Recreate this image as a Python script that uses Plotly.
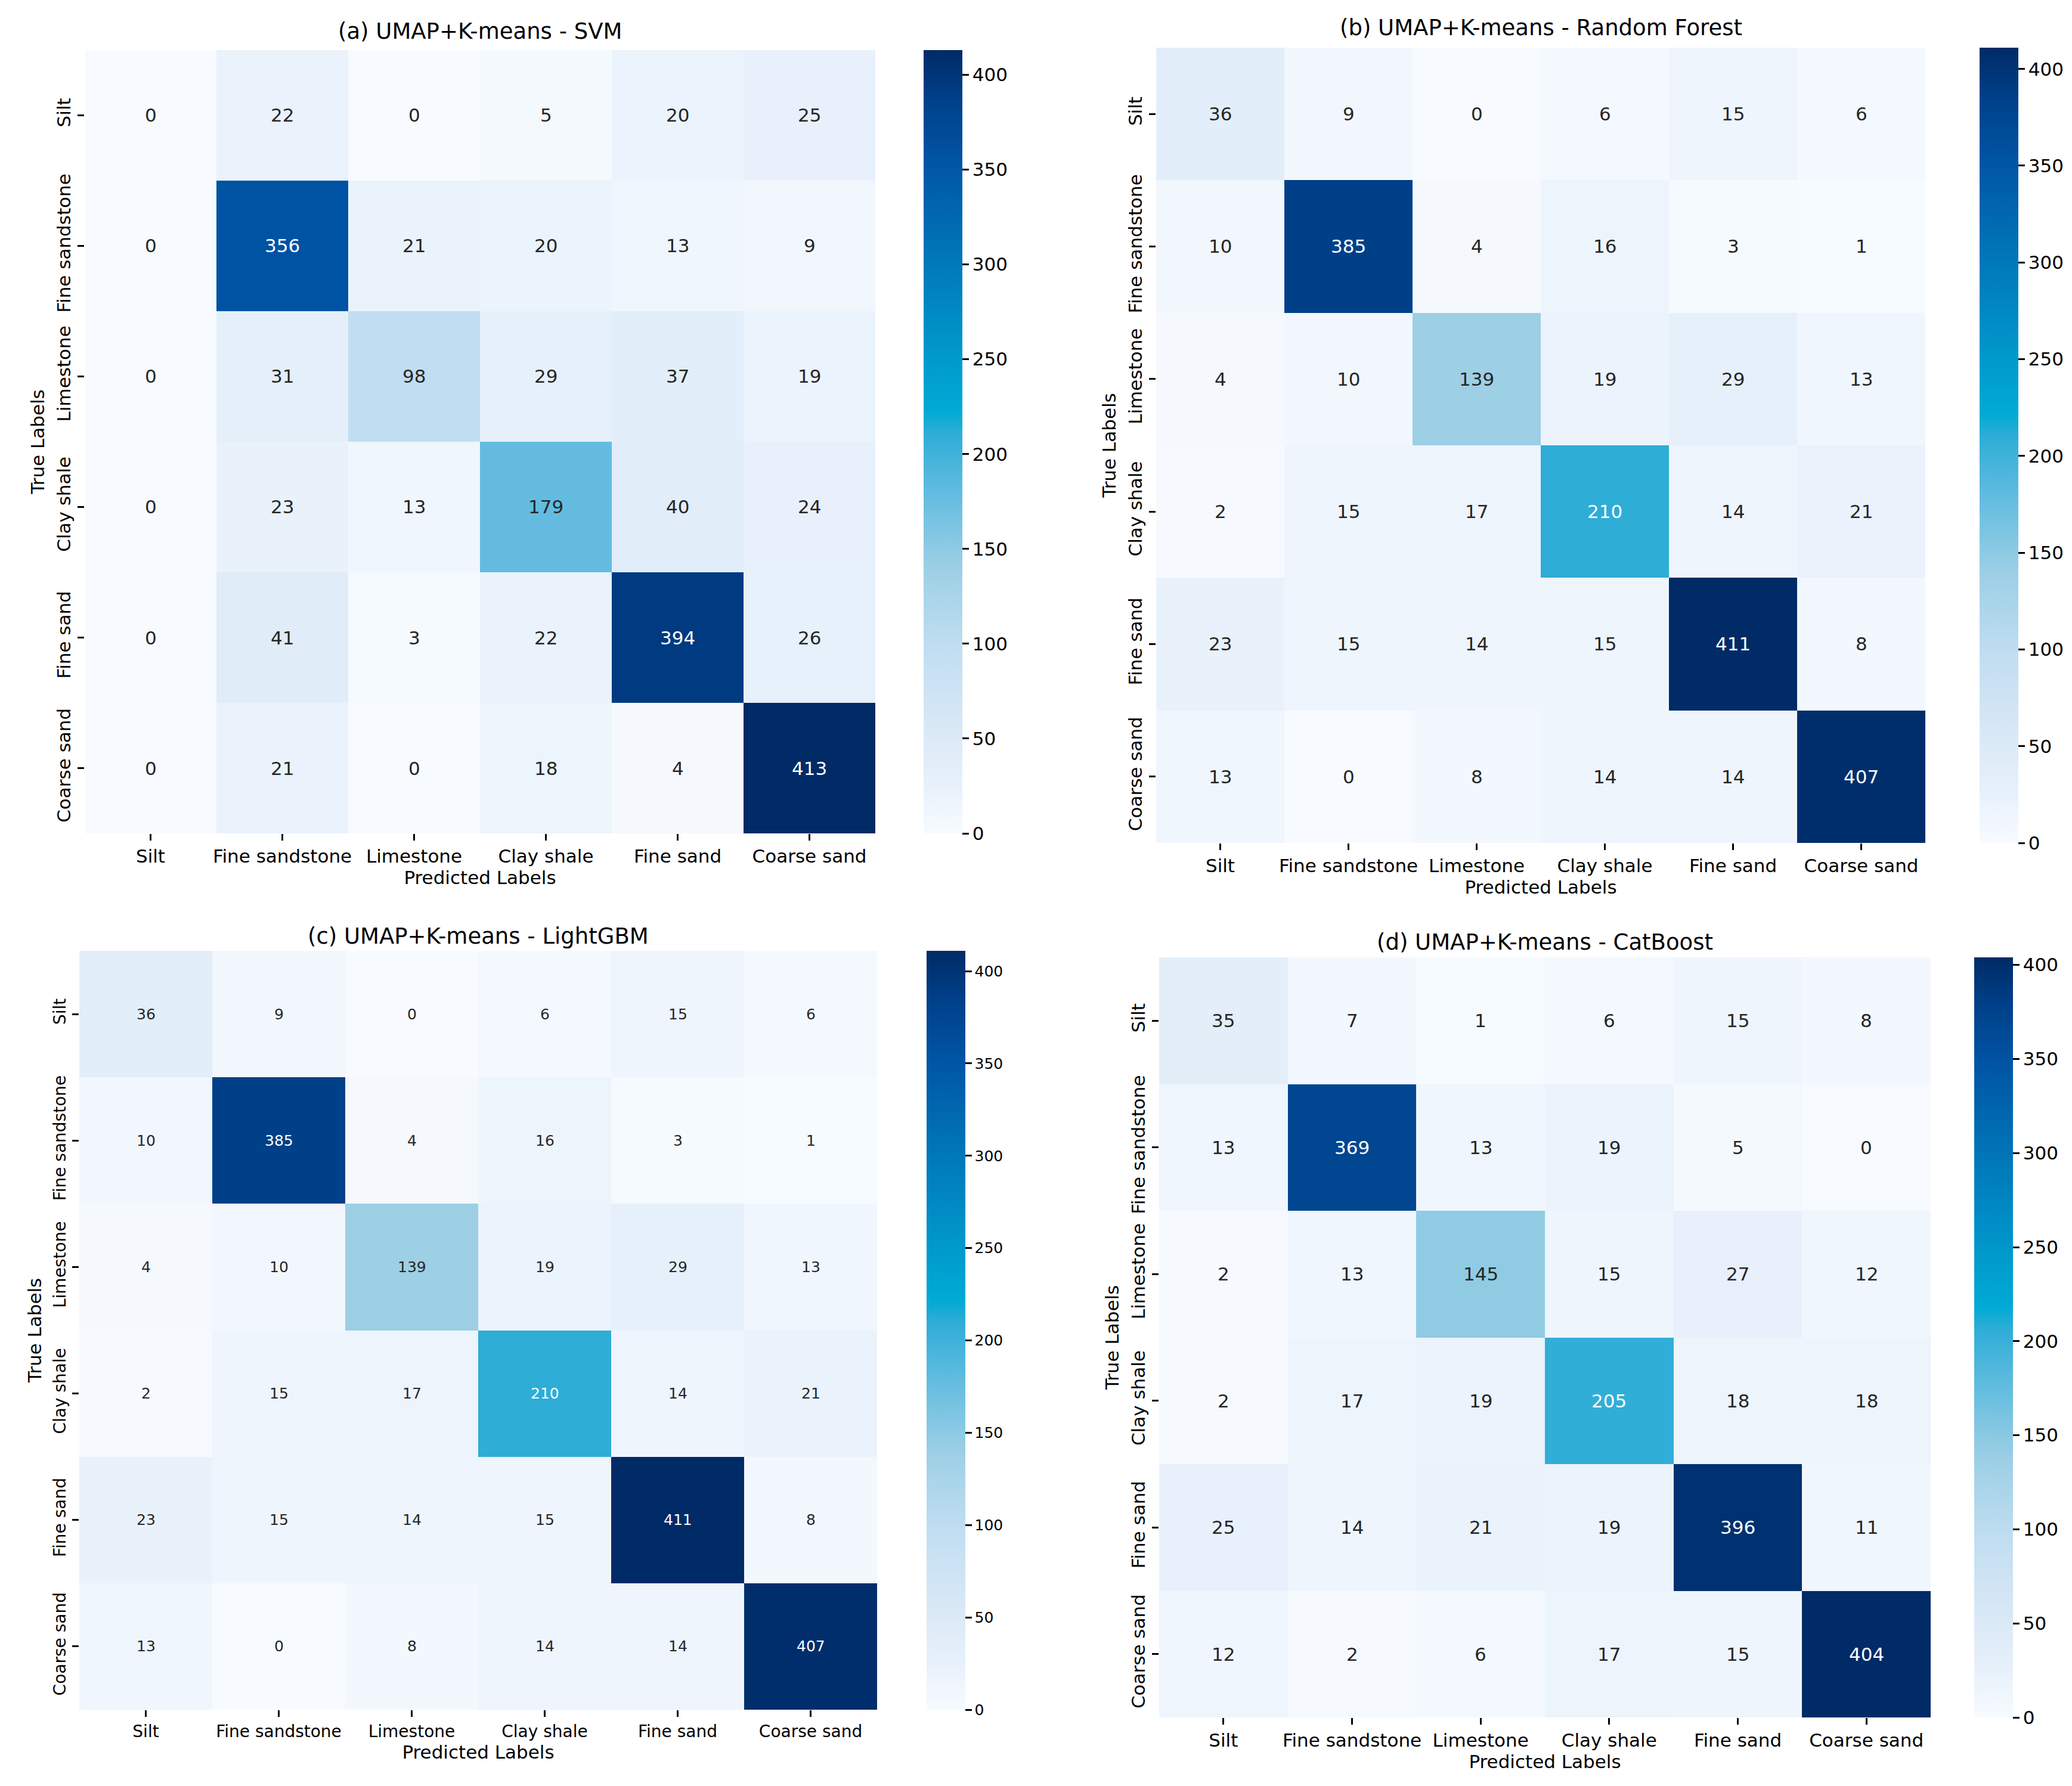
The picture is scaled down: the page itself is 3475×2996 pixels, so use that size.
import plotly.graph_objects as go

W, H = 3475, 2996

labels = ['Silt', 'Fine sandstone', 'Limestone', 'Clay shale', 'Fine sand', 'Coarse sand']

cm_svm = [
    [0, 22, 0, 5, 20, 25],
    [0, 356, 21, 20, 13, 9],
    [0, 31, 98, 29, 37, 19],
    [0, 23, 13, 179, 40, 24],
    [0, 41, 3, 22, 394, 26],
    [0, 21, 0, 18, 4, 413],
]
cm_rf = [
    [36, 9, 0, 6, 15, 6],
    [10, 385, 4, 16, 3, 1],
    [4, 10, 139, 19, 29, 13],
    [2, 15, 17, 210, 14, 21],
    [23, 15, 14, 15, 411, 8],
    [13, 0, 8, 14, 14, 407],
]
cm_lgbm = [
    [36, 9, 0, 6, 15, 6],
    [10, 385, 4, 16, 3, 1],
    [4, 10, 139, 19, 29, 13],
    [2, 15, 17, 210, 14, 21],
    [23, 15, 14, 15, 411, 8],
    [13, 0, 8, 14, 14, 407],
]
cm_cat = [
    [35, 7, 1, 6, 15, 8],
    [13, 369, 13, 19, 5, 0],
    [2, 13, 145, 15, 27, 12],
    [2, 17, 19, 205, 18, 18],
    [25, 14, 21, 19, 396, 11],
    [12, 2, 6, 17, 15, 404],
]

titles = [
    '(a) UMAP+K-means - SVM',
    '(b) UMAP+K-means - Random Forest',
    '(c) UMAP+K-means - LightGBM',
    '(d) UMAP+K-means - CatBoost',
]
matrices = [cm_svm, cm_rf, cm_lgbm, cm_cat]

# colour map sampled from the reference colourbar
blues = [
    [0.00, '#f7fbff'],
    [0.06, '#e8f1fb'],
    [0.12, '#dceaf7'],
    [0.24, '#c0ddf1'],
    [0.34, '#9ccfe5'],
    [0.43, '#65bde0'],
    [0.51, '#2fadd7'],
    [0.54, '#00aad4'],
    [0.61, '#0099cc'],
    [0.73, '#0078b9'],
    [0.86, '#0054a4'],
    [0.94, '#003f88'],
    [1.00, '#002b66'],
]

# pixel boxes: heatmap (x0, x1, y0, y1), colourbar left edge, title centre y
panels = [
    dict(box=(134, 1460, 76, 1390), cb=1541, ty=45, ann=31, tick=31, cbf=31),
    dict(box=(1931, 3221, 72, 1406), cb=3312, ty=38, ann=31, tick=31, cbf=31),
    dict(box=(125, 1463, 1587, 2860), cb=1546, ty=1562, ann=25, tick=28, cbf=25),
    dict(box=(1936, 3230, 1598, 2873), cb=3303, ty=1572, ann=31, tick=31, cbf=31),
]


def px_x(v):
    return v / W


def px_y(v):
    return 1 - v / H


font = 'DejaVu Sans'
fig = go.Figure()
annotations = []
layout = {}

for i, (cm, title, p) in enumerate(zip(matrices, titles, panels)):
    n = '' if i == 0 else str(i + 1)
    x0, x1, y0, y1 = p['box']
    vmax = max(max(r) for r in cm)
    vmin = min(min(r) for r in cm)

    fig.add_trace(go.Heatmap(
        z=cm, x=list(range(6)), y=list(range(6)),
        coloraxis='coloraxis' + n, xaxis='x' + n, yaxis='y' + n,
        hoverongaps=False,
    ))

    layout['xaxis' + n] = dict(
        domain=[px_x(x0), px_x(x1)], anchor='y' + n, range=[-0.5, 5.5],
        tickvals=list(range(6)), ticktext=labels, ticks='outside', ticklen=11,
        tickwidth=2.5, tickcolor='black', showgrid=False, zeroline=False,
        tickfont=dict(size=p['tick'], color='black'), tickangle=0,
        title=dict(text='Predicted Labels', font=dict(size=31, color='black'), standoff=6),
    )
    layout['yaxis' + n] = dict(
        domain=[px_y(y1), px_y(y0)], anchor='x' + n, range=[5.5, -0.5],
        tickvals=list(range(6)), ticktext=labels, ticks='outside', ticklen=11,
        tickwidth=2.5, tickcolor='black', showgrid=False, zeroline=False,
        tickfont=dict(size=p['tick'], color='black'), tickangle=-90,
        title=dict(text='True Labels', font=dict(size=31, color='black'), standoff=4),
    )
    layout['coloraxis' + n] = dict(
        colorscale=blues, cmin=vmin, cmax=vmax,
        colorbar=dict(
            x=px_x(p['cb']), xanchor='left', y=px_y((y0 + y1) / 2), yanchor='middle',
            len=(y1 - y0) / H, lenmode='fraction', thickness=65, thicknessmode='pixels',
            xpad=0, ypad=0, outlinewidth=0, ticks='outside', ticklen=11, tickwidth=2.5,
            tickcolor='black', tickvals=list(range(0, 401, 50)),
            tickfont=dict(size=p['cbf'], color='black', family=font),
        ),
    )

    annotations.append(dict(
        text=title, x=px_x((x0 + x1) / 2), y=px_y(p['ty']), xref='paper', yref='paper',
        xanchor='center', yanchor='middle', showarrow=False,
        font=dict(size=37, color='black', family=font),
    ))

    for r, row in enumerate(cm):
        for c, v in enumerate(row):
            frac = (v - vmin) / (vmax - vmin)
            annotations.append(dict(
                text=str(v), x=c, y=r, xref='x' + n, yref='y' + n, showarrow=False,
                font=dict(size=p['ann'], family=font,
                          color='white' if frac > 0.47 else '#262626'),
            ))

fig.update_layout(
    width=W, height=H,
    margin=dict(l=0, r=0, t=0, b=0),
    paper_bgcolor='white', plot_bgcolor='white',
    font=dict(family=font, color='black'),
    annotations=annotations,
    **layout,
)

fig.write_html('out.html')
